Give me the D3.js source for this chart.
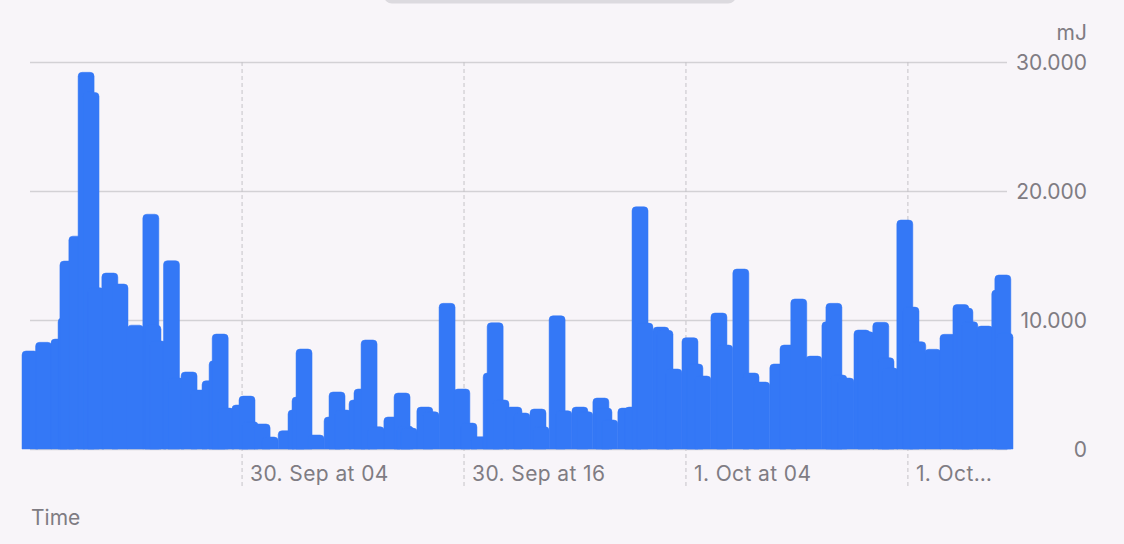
<!DOCTYPE html>
<html>
  <head>
    <meta charset="utf-8">
    <title>Energy over time</title>
    <script src="https://cdn.jsdelivr.net/npm/d3@7/dist/d3.min.js"></script>
    <style>
      body { margin: 0; background: #f8f5f9; overflow: hidden; }
      svg text { font-family: Inter, "Noto Sans", sans-serif; fill: #7f7c83; }
    </style>
  </head>

  <body>
    <svg id="chart" width="1124" height="544"></svg>

    <script>
      // readings (time, mJ)
      let times = [
        "2023-09-29 16:32", "2023-09-29 17:16", "2023-09-29 18:06", "2023-09-29 18:29", "2023-09-29 18:35",
        "2023-09-29 19:04", "2023-09-29 19:34", "2023-09-29 19:50", "2023-09-29 20:06", "2023-09-29 20:51",
        "2023-09-29 21:24", "2023-09-29 22:14", "2023-09-29 23:04", "2023-09-29 23:11", "2023-09-29 23:27",
        "2023-09-30 00:11", "2023-09-30 00:26", "2023-09-30 01:08", "2023-09-30 01:40", "2023-09-30 02:16",
        "2023-09-30 02:39", "2023-09-30 02:49", "2023-09-30 03:08", "2023-09-30 03:53", "2023-09-30 04:16",
        "2023-09-30 04:26", "2023-09-30 05:05", "2023-09-30 05:31", "2023-09-30 06:23", "2023-09-30 06:55",
        "2023-09-30 07:08", "2023-09-30 07:21", "2023-09-30 08:00", "2023-09-30 08:52", "2023-09-30 09:08",
        "2023-09-30 09:28", "2023-09-30 10:13", "2023-09-30 10:29", "2023-09-30 10:52", "2023-09-30 11:15",
        "2023-09-30 12:06", "2023-09-30 12:39", "2023-09-30 12:49", "2023-09-30 13:02", "2023-09-30 13:53",
        "2023-09-30 14:13", "2023-09-30 15:05", "2023-09-30 15:53", "2023-09-30 16:16", "2023-09-30 16:49",
        "2023-09-30 17:28", "2023-09-30 17:41", "2023-09-30 18:00", "2023-09-30 18:42", "2023-09-30 19:08",
        "2023-09-30 20:00", "2023-09-30 20:10", "2023-09-30 21:02", "2023-09-30 21:24", "2023-09-30 22:16",
        "2023-09-30 22:32", "2023-09-30 23:24", "2023-09-30 23:34", "2023-09-30 23:53", "2023-10-01 00:45",
        "2023-10-01 01:08", "2023-10-01 01:31", "2023-10-01 01:47", "2023-10-01 02:39", "2023-10-01 02:52",
        "2023-10-01 03:21", "2023-10-01 04:13", "2023-10-01 04:29", "2023-10-01 04:55", "2023-10-01 05:47",
        "2023-10-01 06:06", "2023-10-01 06:58", "2023-10-01 07:31", "2023-10-01 08:06", "2023-10-01 08:58",
        "2023-10-01 09:31", "2023-10-01 10:06", "2023-10-01 10:55", "2023-10-01 11:47", "2023-10-01 12:00",
        "2023-10-01 12:16", "2023-10-01 12:39", "2023-10-01 13:31", "2023-10-01 13:44", "2023-10-01 14:32",
        "2023-10-01 14:49", "2023-10-01 15:02", "2023-10-01 15:50", "2023-10-01 16:10", "2023-10-01 16:32",
        "2023-10-01 17:21", "2023-10-01 18:10", "2023-10-01 18:52", "2023-10-01 19:05", "2023-10-01 19:21",
        "2023-10-01 20:10", "2023-10-01 20:58", "2023-10-01 21:08", "2023-10-01 21:15"
      ];
      let energy = [
        7600, 8270, 8520, 10150, 14570, 16500, 29200, 27640, 12500, 13640,
        12790, 9600, 18200, 9600, 8370, 14600, 5500, 5970, 4570, 5290,
        6840, 8910, 3170, 3410, 4100, 2120, 1940, 930, 1420, 3020,
        4030, 7750, 1085, 2480, 4420, 3020, 3800, 4650, 8450, 1730,
        2480, 4340, 1780, 1620, 3250, 2890, 11290, 4650, 2010, 950,
        5890, 9790, 3800, 3250, 2790, 3100, 1730, 10330, 2970, 3250,
        2890, 3950, 3170, 2250, 3170, 3250, 18780, 9760, 9450, 9200,
        6200, 8630, 6590, 5660, 10540, 8060, 13950, 5890, 5190, 6590,
        8060, 11630, 7200, 9870, 11290, 5740, 5500, 9220, 9090, 9820,
        7080, 6280, 17750, 11000, 8320, 7730, 8890, 11200, 10930, 9870,
        9530, 12320, 13490, 8970
      ];
      let yTicks = [0, 10000, 20000, 30000];
      let xTicks = ["2023-09-30 04:00", "2023-09-30 16:00", "2023-10-01 04:00", "2023-10-01 16:00"];
      let xTickLabels = ["30. Sep at 04", "30. Sep at 16", "1. Oct at 04", "1. Oct\u2026"];

      let parseTime = d3.timeParse("%Y-%m-%d %H:%M");
      let readings = times.map(function(t, i) {
        return { time: parseTime(t), value: energy[i] };
      });

      let svg = d3.select("#chart");
      let plot = { left: 30, right: 1005, top: 62, bottom: 449 };
      let barWidth = 16;
      let radius = 4;

      let x = d3.scaleTime()
        .domain(d3.extent(readings, function(d) { return d.time; }))
        .range([plot.left, plot.right]);
      let y = d3.scaleLinear()
        .domain([0, 30000])
        .range([plot.bottom, plot.top]);

      // top strip (sheet handle)
      svg.append("rect")
        .attr("x", 384)
        .attr("y", -12)
        .attr("width", 352)
        .attr("height", 15.5)
        .attr("rx", 8)
        .style("fill", "#dcdadf");

      // horizontal grid
      svg.append("g")
        .selectAll("line")
          .data(yTicks)
        .enter().append("line")
          .attr("x1", plot.left)
          .attr("x2", plot.right + 2)
          .attr("y1", function(d) { return y(d) + 0.5; })
          .attr("y2", function(d) { return y(d) + 0.5; })
          .style("stroke", "#d3d1d5")
          .style("stroke-width", 1.5);

      // dashed time ticks
      svg.append("g")
        .selectAll("line")
          .data(xTicks)
        .enter().append("line")
          .attr("x1", function(d) { return x(parseTime(d)); })
          .attr("x2", function(d) { return x(parseTime(d)); })
          .attr("y1", plot.top)
          .attr("y2", 487)
          .style("stroke", "#c5c3c8")
          .style("stroke-width", 1)
          .style("stroke-dasharray", "4,3");

      // bars with rounded tops
      function barPath(d) {
        let x0 = x(d.time) - barWidth / 2;
        let x1 = x0 + barWidth;
        let top = y(d.value);
        let r = Math.min(radius, (plot.bottom - top) / 2);
        return "M" + x0 + "," + plot.bottom +
          "V" + (top + r) +
          "Q" + x0 + "," + top + " " + (x0 + r) + "," + top +
          "H" + (x1 - r) +
          "Q" + x1 + "," + top + " " + x1 + "," + (top + r) +
          "V" + plot.bottom + "Z";
      }
      svg.append("g")
        .selectAll("path")
          .data(readings)
        .enter().append("path")
          .attr("d", barPath)
          .style("fill", "#3478f6")
          .style("stroke", "#3478f6")
          .style("stroke-width", 0.5);

      // y axis labels
      svg.append("g")
        .selectAll("text")
          .data(yTicks)
        .enter().append("text")
          .attr("x", 1087)
          .attr("y", function(d) { return y(d); })
          .attr("dy", "0.36em")
          .attr("text-anchor", "end")
          .style("font-size", "21px")
          .text(function(d) { return d === 0 ? "0" : d3.format(",")(d).replace(/,/g, "."); });

      svg.append("text")
        .attr("x", 1087)
        .attr("y", 40)
        .attr("text-anchor", "end")
        .style("font-size", "21px")
        .text("mJ");

      // x axis labels
      svg.append("g")
        .selectAll("text")
          .data(xTicks)
        .enter().append("text")
          .attr("x", function(d) { return x(parseTime(d)) + 8; })
          .attr("y", 481)
          .style("font-size", "21px")
          .style("letter-spacing", "0.4px")
          .text(function(d, i) { return xTickLabels[i]; });

      svg.append("text")
        .attr("x", 31)
        .attr("y", 525)
        .style("font-size", "21px")
        .text("Time");
    </script>
  </body>
</html>
